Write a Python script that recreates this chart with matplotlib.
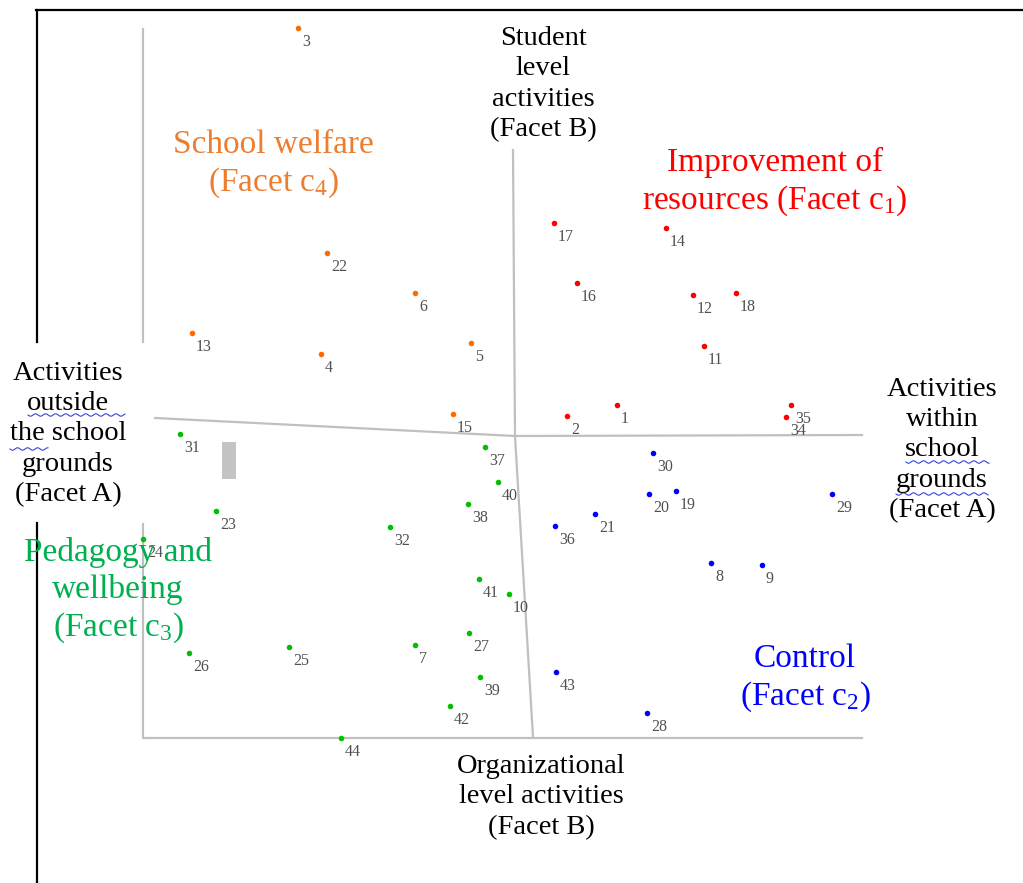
import numpy as np
import matplotlib
matplotlib.use("Agg")
import matplotlib.pyplot as plt

plt.rcParams['font.family'] = ['Liberation Serif', 'DejaVu Serif']
plt.rcParams['mathtext.fontset'] = 'custom'
plt.rcParams['mathtext.rm'] = 'Liberation Serif'
plt.rcParams['mathtext.default'] = 'regular'

# item positions (pixel space of the original figure)
c1_ids = [17, 14, 16, 12, 18, 11, 1, 2, 35, 34]
c1_x = [554, 666, 577, 693, 736, 704, 617, 567, 791, 786]
c1_y = [223, 228, 283, 295, 293, 346, 405, 416, 405, 417]

c2_ids = [30, 20, 19, 29, 21, 36, 8, 9, 43, 28]
c2_x = [653, 649, 676, 832, 595, 555, 711, 762, 556, 647]
c2_y = [453, 494, 491, 494, 514, 526, 563, 565, 672, 713]

c3_ids = [31, 37, 40, 38, 23, 32, 24, 41, 10, 27, 26, 25, 7, 39, 42, 44]
c3_x = [180, 485, 498, 468, 216, 390, 143, 479, 509, 469, 189, 289, 415, 480, 450, 341]
c3_y = [434, 447, 482, 504, 511, 527, 539, 579, 594, 633, 653, 647, 645, 677, 706, 738]

c4_ids = [3, 22, 6, 13, 4, 5, 15]
c4_x = [298, 327, 415, 192, 321, 471, 453]
c4_y = [28, 253, 293, 333, 354, 343, 414]

fig = plt.figure(figsize=(10.23, 8.83), dpi=100)
ax = fig.add_axes([0, 0, 1, 1])
ax.set_xlim(0, 1023)
ax.set_ylim(883, 0)
ax.axis('off')

# black frame pieces
ax.plot([36, 1023], [10, 10], color='black', lw=1.6)
ax.plot([37, 37], [10, 342], color='black', lw=1.6)
ax.plot([37, 37], [523, 883], color='black', lw=1.6)

# gray partition lines
gray = '#c0c0c0'
ax.plot([143, 143], [29, 342], color=gray, lw=1.6)
ax.plot([143, 143, 862], [524, 738, 738], color=gray, lw=1.6)
ax.plot([155, 515, 862], [418, 436, 435], color=gray, lw=1.6)
ax.plot([513, 515, 533], [150, 436, 737], color=gray, lw=1.6)
ax.add_patch(plt.Rectangle((222, 442), 14, 37, color='#c4c4c4', lw=0))

groups = [
    (c1_ids, c1_x, c1_y, '#ff0000'),
    (c2_ids, c2_x, c2_y, '#0000ff'),
    (c3_ids, c3_x, c3_y, '#00c000'),
    (c4_ids, c4_x, c4_y, '#ff6a00'),
]
for ids, xs, ys, col in groups:
    ax.scatter(xs, ys, s=16, color=col, zorder=3, linewidths=0)
    for i, x, y in zip(ids, xs, ys):
        ax.text(x + 4, y + 14, str(i), fontsize=11.5, color='#505050',
                ha='left', va='center', zorder=3)

# facet labels
blk = dict(fontsize=20.5, color='black', ha='center', va='center', linespacing=1.28)
ax.text(543, 84, 'Student\nlevel\nactivities\n(Facet B)', **blk)
ax.text(68, 434, 'Activities\noutside\nthe school\ngrounds\n(Facet A)', **blk)
ax.text(942, 450, 'Activities\nwithin\nschool\ngrounds\n(Facet A)', **blk)
ax.text(541, 797, 'Organizational\nlevel activities\n(Facet B)', **blk)

col = dict(fontsize=24, ha='center', va='center', linespacing=1.22, zorder=4)
ax.text(273, 165, 'School welfare\n(Facet c$_4$)', color='#ed7d31', **col)
ax.text(775, 182, 'Improvement of\nresources (Facet c$_1$)', color='#ff0000', **col)
ax.text(118, 591, 'Pedagogy and\nwellbeing\n(Facet c$_3$)', color='#00b050', **col)
ax.text(805, 679, 'Control\n(Facet c$_2$)', color='#0000ff', **col)

# spell-check squiggles under some words
for x0, x1, y0 in [(28, 125, 415), (10, 48, 449), (906, 989, 462), (896, 988, 494)]:
    t = np.linspace(x0, x1, 120)
    ax.plot(t, y0 + 1.2 * np.sin((t - x0) / 1.6), color='#3344dd', lw=0.8)

fig.savefig('out.png', dpi=100)
